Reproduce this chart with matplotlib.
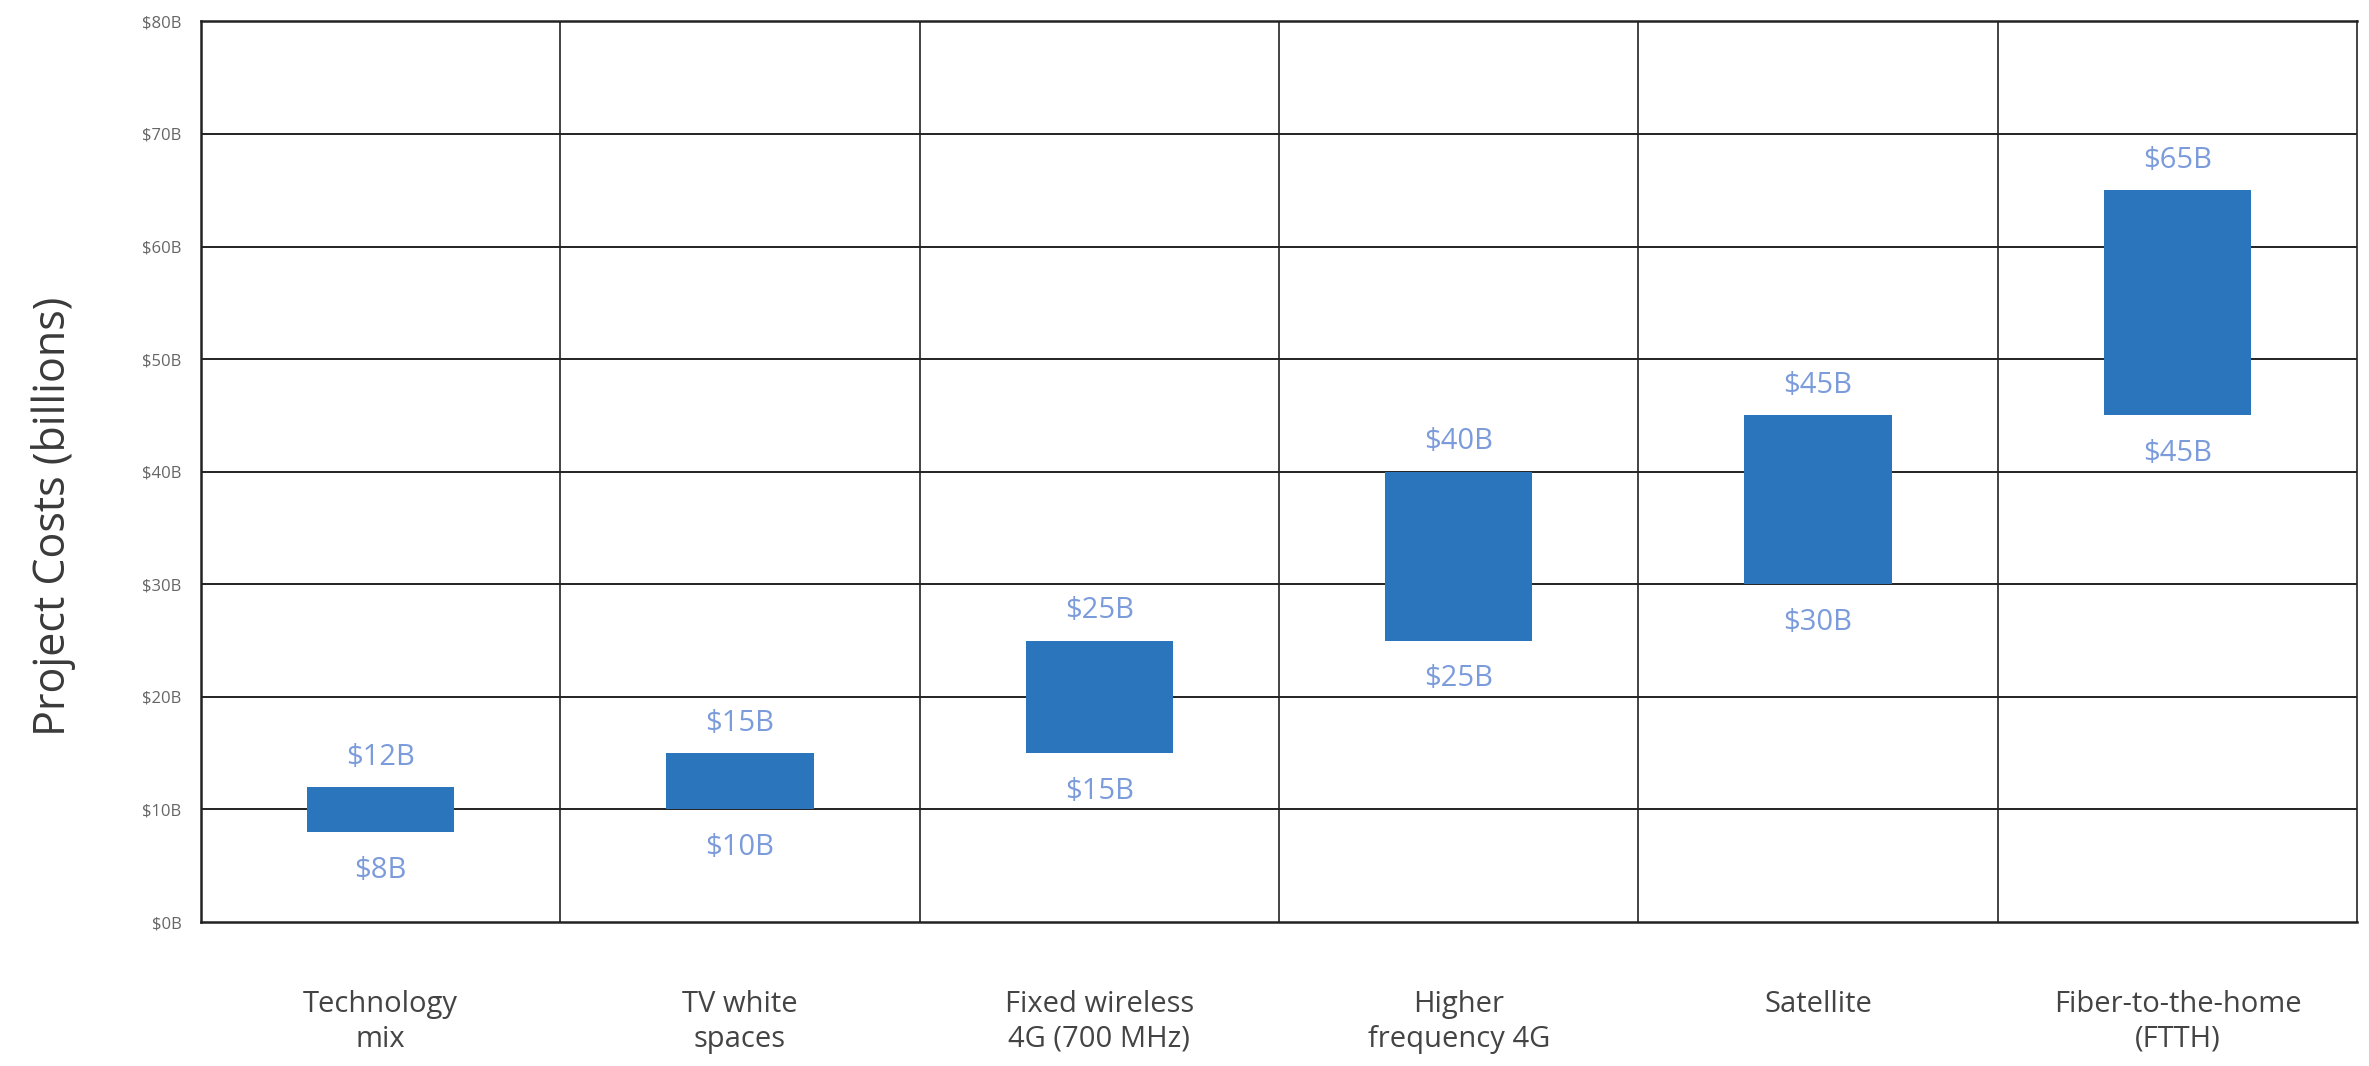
import matplotlib
matplotlib.use("Agg")
import matplotlib.pyplot as plt
import numpy as np

# data (billions of dollars)
categories = ["Technology\nmix", "TV white\nspaces", "Fixed wireless\n4G (700 MHz)",
              "Higher\nfrequency 4G", "Satellite", "Fiber-to-the-home\n(FTTH)"]
low = [8, 10, 15, 25, 30, 45]
high = [12, 15, 25, 40, 45, 65]
yticks = [0, 10, 20, 30, 40, 50, 60, 70, 80]

plt.rcParams['font.family'] = ['Open Sans', 'DejaVu Sans']

bar_color = '#2a75bb'
lab_color = '#7b9bdb'
grid_color = '#222222'

fig = plt.figure(figsize=(23.69, 10.66), dpi=100)
ax = fig.add_axes([0.0848, 0.135, 0.9102, 0.845])

x = np.arange(len(categories))
heights = [h - l for l, h in zip(low, high)]
ax.bar(x, heights, bottom=low, width=0.41, color=bar_color, zorder=3)

for xi, l, h in zip(x, low, high):
    ax.annotate(f"${h}B", (xi, h), xytext=(0, 16), textcoords='offset points',
                ha='center', va='baseline', fontsize=21, color=lab_color, zorder=4)
    ax.annotate(f"${l}B", (xi, l), xytext=(0, -17), textcoords='offset points',
                ha='center', va='top', fontsize=21, color=lab_color, zorder=4)

ax.set_xlim(-0.5, len(categories) - 0.5)
ax.set_ylim(0, 80)

# grid: horizontal lines at each tick, vertical lines between categories
ax.set_yticks(yticks)
ax.set_yticklabels([f"${v}B" for v in yticks], fontsize=12, color='#666666')
for v in yticks[1:-1]:
    ax.axhline(v, color=grid_color, lw=1.4, zorder=1)
for b in np.arange(0.5, len(categories) - 0.5, 1):
    ax.axvline(b, color=grid_color, lw=1.2, zorder=1)

ax.set_xticks(x)
ax.set_xticklabels(categories, fontsize=21, color='#444444', linespacing=1.25)
ax.tick_params(axis='x', length=0, pad=49)
ax.tick_params(axis='y', length=0, pad=14)

for s in ax.spines.values():
    s.set_color(grid_color)
    s.set_linewidth(1.8)
ax.spines['right'].set_linewidth(1.2)

ax.set_ylabel("Project Costs (billions)", fontsize=31, color='#3a3a3a')
ax.yaxis.set_label_coords(-0.058, 0.45)

fig.savefig("out.png", dpi=100)
